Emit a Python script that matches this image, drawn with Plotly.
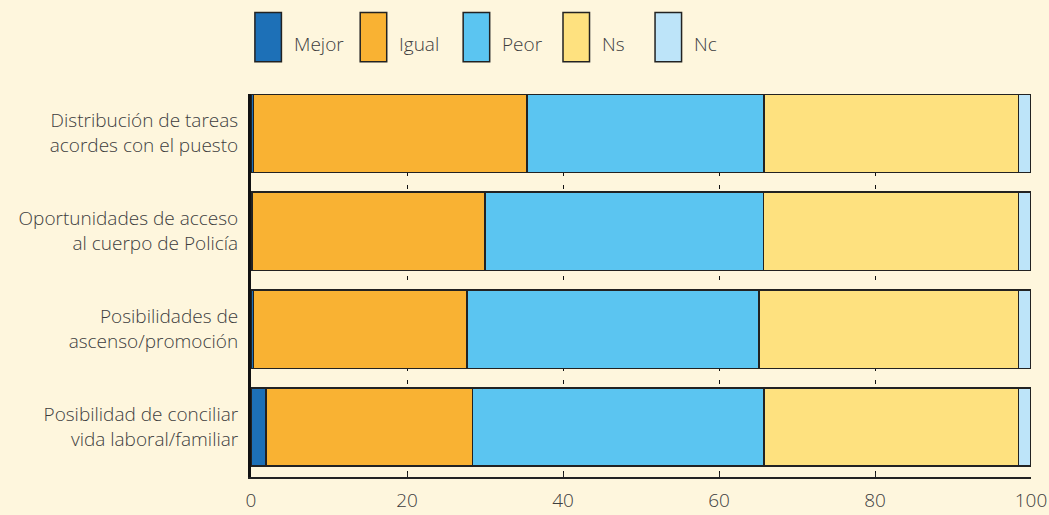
import plotly.graph_objects as go

# Survey answers (% of respondents) per item, stacked left to right
categories = [
    "Distribución de tareas<br>acordes con el puesto",
    "Oportunidades de acceso<br>al cuerpo de Policía",
    "Posibilidades de<br>ascenso/promoción",
    "Posibilidad de conciliar<br>vida laboral/familiar",
]
series_names = ["Mejor", "Igual", "Peor", "Ns", "Nc"]
mejor = [0.3, 0.2, 0.3, 1.9]
igual = [35.1, 29.8, 27.4, 26.5]
peor = [30.4, 35.7, 37.4, 37.4]
ns = [32.6, 32.7, 33.3, 32.6]
nc = [1.6, 1.6, 1.6, 1.6]
x_ticks = [0, 20, 40, 60, 80, 100]

series_values = [mejor, igual, peor, ns, nc]
colors = ["#1d70b7", "#f9b233", "#5bc5f1", "#fee17f", "#bde4f9"]

bg = "#fef6dd"
ink = "#3d3d3d"
edge = "#222222"
font_family = "Open Sans"
fsize = 19

fig = go.Figure()
for name, vals, col in zip(series_names, series_values, colors):
    fig.add_trace(go.Bar(
        name=name, y=categories, x=vals, orientation="h",
        marker=dict(color=col, line=dict(color=edge, width=1.5)),
        width=0.8, showlegend=False, hoverinfo="x+name",
    ))

# Hand-built legend: tall swatches with labels to their right
legend_left = [0.5, 14.0, 27.2, 40.0, 51.8]   # data-x of each swatch's left edge
swatch_w = 3.4
label_gap = 4.7
shapes = []
annotations = []
for name, col, x0 in zip(series_names, colors, legend_left):
    shapes.append(dict(
        type="rect", xref="x", yref="paper",
        x0=x0, x1=x0 + swatch_w, y0=1.084, y1=1.213,
        fillcolor=col, line=dict(color=edge, width=1.5), layer="above",
    ))
    annotations.append(dict(
        text=name, xref="x", yref="paper", x=x0 + label_gap, y=1.13,
        xanchor="left", yanchor="middle", showarrow=False,
        font=dict(family=font_family, size=fsize, color=ink, weight=300),
    ))

fig.update_layout(
    barmode="stack",
    width=1049, height=515,
    margin=dict(l=251, r=18, t=94, b=38),
    paper_bgcolor=bg, plot_bgcolor=bg,
    font=dict(family=font_family, size=fsize, color=ink, weight=300),
    shapes=shapes, annotations=annotations,
    bargap=0.2,
)
fig.update_xaxes(
    range=[0, 100], tickvals=x_ticks, ticktext=[str(v) for v in x_ticks],
    showgrid=True, gridcolor="#111111", gridwidth=1, griddash="4px,9px",
    showline=True, linecolor=edge, linewidth=2,
    ticks="inside", ticklen=4, tickcolor=edge, tickwidth=1,
    zeroline=False, ticklabelstandoff=5, automargin=False,
    ticklabeloverflow="allow",
    tickfont=dict(family=font_family, size=fsize, color=ink, weight=300),
)
fig.update_yaxes(
    categoryorder="array", categoryarray=categories,
    range=[3.51, -0.4],
    showgrid=False, showline=True, linecolor="#111111", linewidth=3,
    ticks="", ticklabelstandoff=6, zeroline=False, automargin=False,
    tickfont=dict(family=font_family, size=fsize, color=ink, weight=300),
)

fig.write_html("out.html")
